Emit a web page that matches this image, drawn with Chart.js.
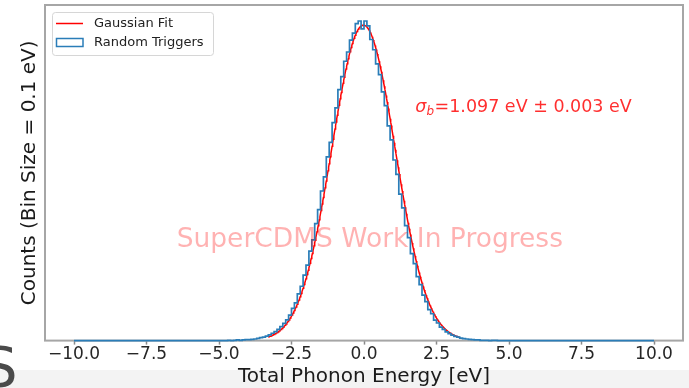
<!DOCTYPE html>
<html>
<head>
<meta charset="utf-8">
<script src="https://cdn.jsdelivr.net/npm/chart.js@4/dist/chart.umd.min.js"></script>
<style>
  html, body { margin: 0; padding: 0; background: #fff; }
  canvas { display: block; }
</style>
</head>
<body>
<canvas id="phononChart" width="689" height="388"></canvas>
<script>
// random trigger histogram, 0.1 eV bins from -10 to +10 eV
const binStart = -10;
const binWidth = 0.1;
const binCounts = [
  0, 0, 0, 0, 0, 0, 0, 0, 0, 0,
  0, 0, 0, 0, 0, 0, 0, 0, 0, 0,
  0, 0, 0, 0, 0, 0, 0, 0, 0, 0,
  0, 0, 0, 0, 0, 0, 0, 0, 0, 0,
  0, 0, 0, 0, 0, 0, 0, 0, 0, 0,
  0, 0, 0, 0, 1, 0, 1, 2, 1, 2,
  3, 3, 4, 5, 7, 9, 11, 14, 18, 23,
  28, 35, 44, 54, 65, 80, 101, 118, 146, 170,
  205, 236, 280, 315, 366, 410, 468, 512, 575, 620,
  682, 728, 785, 826, 874, 903, 940, 962, 992, 1000,
  975, 1000, 985, 942, 910, 866, 832, 778, 735, 672,
  628, 565, 520, 458, 415, 360, 322, 272, 241, 200,
  175, 142, 122, 97, 84, 64, 55, 42, 35, 27,
  22, 17, 13, 11, 8, 6, 5, 4, 3, 2,
  2, 1, 1, 1, 0, 1, 1, 0, 0, 0,
  0, 0, 0, 0, 0, 0, 0, 0, 0, 0,
  0, 0, 0, 0, 0, 0, 0, 0, 0, 0,
  0, 0, 0, 0, 0, 0, 0, 0, 0, 0,
  0, 0, 0, 0, 0, 0, 0, 0, 0, 0,
  0, 0, 0, 0, 0, 0, 0, 0, 0, 0
];

// gaussian fit parameters
const fitAmplitude = 987;
const fitMean = -0.02;
const fitSigma = 1.097;
const fitSigmaErr = 0.003;
const fitRange = [-3.3, 3.3];

const xTicks = [-10, -7.5, -5, -2.5, 0, 2.5, 5, 7.5, 10];

const FONT = '"DejaVu Sans", sans-serif';

// step outline: start and end on the baseline like a step histogram
const histPoints = [{ x: binStart, y: 0 }];
binCounts.forEach((c, i) => histPoints.push({ x: binStart + i * binWidth, y: c }));
const binEnd = binStart + binCounts.length * binWidth;
histPoints.push({ x: binEnd, y: binCounts[binCounts.length - 1] });
histPoints.push({ x: binEnd, y: 0 });

const fitPoints = [];
for (let x = fitRange[0]; x <= fitRange[1] + 1e-9; x += 0.02) {
  const z = (x - fitMean) / fitSigma;
  fitPoints.push({ x: x, y: fitAmplitude * Math.exp(-0.5 * z * z) });
}

const fmtTick = v => v.toFixed(1).replace('-', '\u2212');

// axes box, drawn under the data
const frame = {
  id: 'frame',
  beforeDatasetsDraw(chart) {
    const a = chart.chartArea, ctx = chart.ctx;
    ctx.save();
    ctx.strokeStyle = '#a6a6a6';
    ctx.lineWidth = 2;
    ctx.strokeRect(a.left, a.top, a.right - a.left, a.bottom - a.top);
    ctx.restore();
  }
};

// slide leftovers behind the figure
const backdrop = {
  id: 'backdrop',
  beforeDraw(chart) {
    const ctx = chart.ctx;
    ctx.save();
    ctx.fillStyle = '#ffffff';
    ctx.fillRect(0, 0, chart.width, chart.height);
    ctx.fillStyle = '#f3f3f3';
    ctx.fillRect(0, 370, chart.width, chart.height - 370);
    ctx.fillStyle = '#4a4a4a';
    ctx.font = '56px ' + FONT;
    ctx.textBaseline = 'alphabetic';
    ctx.fillText('S', -18, 386);
    ctx.restore();
  }
};

// legend box, sigma label and watermark
const overlay = {
  id: 'overlay',
  afterDatasetsDraw(chart) {
    const ctx = chart.ctx, xs = chart.scales.x, ys = chart.scales.y;
    const hist = chart.data.datasets[0], fit = chart.data.datasets[1];
    ctx.save();

    // watermark
    ctx.fillStyle = 'rgba(255, 0, 0, 0.3)';
    ctx.font = '26.5px ' + FONT;
    ctx.textAlign = 'center';
    ctx.textBaseline = 'middle';
    ctx.fillText('SuperCDMS Work In Progress', xs.getPixelForValue(0.2), ys.getPixelForValue(313));

    // fitted width
    let x = xs.getPixelForValue(1.77);
    const y = ys.getPixelForValue(714);
    ctx.fillStyle = 'rgba(255, 0, 0, 0.82)';
    ctx.textAlign = 'left';
    ctx.textBaseline = 'alphabetic';
    ctx.font = 'italic 17.5px ' + FONT;
    ctx.fillText('\u03c3', x, y);
    x += ctx.measureText('\u03c3').width;
    ctx.font = 'italic 12px ' + FONT;
    ctx.fillText('b', x, y + 3);
    x += ctx.measureText('b').width + 0.5;
    ctx.font = '17.5px ' + FONT;
    ctx.fillText('=' + fitSigma.toFixed(3) + ' eV \u00b1 ' + fitSigmaErr.toFixed(3) + ' eV', x, y);

    // legend
    const lx = 52.5, ly = 12.5, lw = 161, lh = 43;
    ctx.beginPath();
    ctx.roundRect(lx, ly, lw, lh, 3);
    ctx.fillStyle = 'rgba(255,255,255,0.85)';
    ctx.fill();
    ctx.strokeStyle = '#d6d6d6';
    ctx.lineWidth = 1;
    ctx.stroke();

    ctx.strokeStyle = fit.borderColor;
    ctx.lineWidth = 1.5;
    ctx.beginPath();
    ctx.moveTo(56, 23.5);
    ctx.lineTo(83, 23.5);
    ctx.stroke();

    ctx.strokeStyle = hist.borderColor;
    ctx.lineWidth = 1.5;
    ctx.strokeRect(56.5, 38.5, 26.5, 8);

    ctx.fillStyle = '#222';
    ctx.font = '13px ' + FONT;
    ctx.textBaseline = 'middle';
    ctx.fillText(fit.label, 94, 24);
    ctx.fillText(hist.label, 94, 43);

    ctx.restore();
  }
};

new Chart(document.getElementById('phononChart'), {
  type: 'line',
  data: {
    datasets: [
      {
        label: 'Random Triggers',
        data: histPoints,
        stepped: 'after',
        borderColor: '#2a7db8',
        borderWidth: 1.7,
        pointRadius: 0,
        fill: false,
        clip: 4
      },
      {
        label: 'Gaussian Fit',
        data: fitPoints,
        borderColor: '#ff0000',
        borderWidth: 1.5,
        pointRadius: 0,
        tension: 0,
        fill: false
      }
    ]
  },
  options: {
    responsive: false,
    animation: false,
    devicePixelRatio: 1,
    layout: { padding: { left: 14, right: 6, top: 5, bottom: 0 } },
    plugins: {
      legend: { display: false },
      tooltip: { enabled: false }
    },
    scales: {
      x: {
        type: 'linear',
        min: -11,
        max: 11,
        afterBuildTicks: scale => { scale.ticks = xTicks.map(v => ({ value: v })); },
        grid: { drawOnChartArea: false, drawTicks: true, tickLength: 4, color: '#8a8a8a', tickWidth: 1.5 },
        border: { display: false },
        ticks: {
          autoSkip: false,
          maxRotation: 0,
          padding: 0,
          color: '#262626',
          font: { family: FONT, size: 17 },
          callback: v => fmtTick(v)
        },
        title: {
          display: true,
          text: 'Total Phonon Energy [eV]',
          color: '#1a1a1a',
          font: { family: FONT, size: 20, lineHeight: 1.15 },
          padding: { top: 0, bottom: 0 }
        }
      },
      y: {
        min: 0,
        max: 1050,
        grid: { display: false, drawTicks: false },
        border: { display: false },
        ticks: { display: false },
        title: {
          display: true,
          text: 'Counts (Bin Size = ' + binWidth + ' eV)',
          color: '#1a1a1a',
          font: { family: FONT, size: 20, lineHeight: 1.15 },
          padding: { top: 4, bottom: 4 }
        }
      }
    }
  },
  plugins: [backdrop, frame, overlay]
});
</script>
</body>
</html>
